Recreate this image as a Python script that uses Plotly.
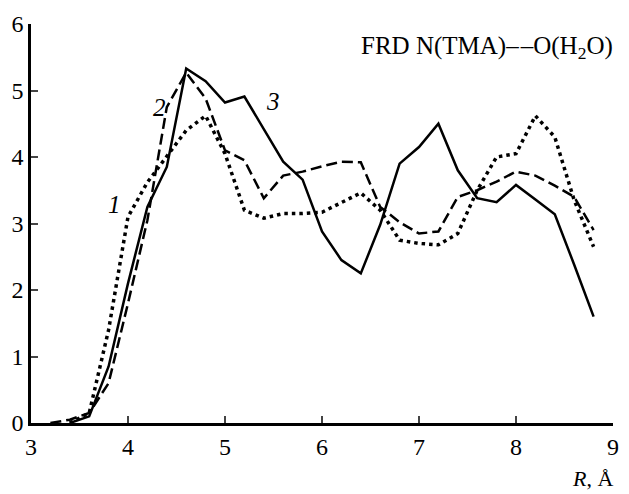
import plotly.graph_objects as go

# Distance grid (Å)
r = [3.2, 3.4, 3.6, 3.8, 4.0, 4.2, 4.4, 4.6, 4.8, 5.0, 5.2, 5.4, 5.6, 5.8, 6.0,
     6.2, 6.4, 6.6, 6.8, 7.0, 7.2, 7.4, 7.6, 7.8, 8.0, 8.2, 8.4, 8.6, 8.8]

# Curve 1 (dotted)
curve1 = [None, 0.0, 0.15, 1.4, 3.1, 3.62, 4.0, 4.4, 4.62, 4.05, 3.2, 3.08, 3.15, 3.15, 3.17,
          3.32, 3.46, 3.2, 2.75, 2.7, 2.68, 2.85, 3.5, 4.0, 4.05, 4.62, 4.3, 3.35, 2.65]
# Curve 2 (dashed)
curve2 = [0.0, 0.05, 0.15, 0.6, 1.8, 3.05, 4.75, 5.27, 4.88, 4.1, 3.95, 3.38, 3.72, 3.78, 3.86,
          3.93, 3.92, 3.25, 3.02, 2.85, 2.88, 3.4, 3.5, 3.63, 3.78, 3.72, 3.57, 3.4, 2.9]
# Curve 3 (solid)
curve3 = [None, 0.0, 0.1, 0.85, 2.1, 3.25, 3.85, 5.33, 5.14, 4.82, 4.91, 4.42, 3.93, 3.66, 2.88,
          2.45, 2.25, 2.98, 3.9, 4.15, 4.5, 3.8, 3.38, 3.32, 3.58, 3.36, 3.14, 2.38, 1.6]

x_ticks = [3, 4, 5, 6, 7, 8, 9]
y_ticks = [0, 1, 2, 3, 4, 5, 6]

curve_labels = ["1", "2", "3"]
label_x = [3.86, 4.32, 5.49]
label_y = [3.28, 4.75, 4.83]

title_text = "FRD N(TMA)\u2013\u200a\u2013O(H<sub>2</sub>O)"
x_title = "<i>R</i>, Å"

FONT = "Liberation Serif, Times New Roman, serif"

fig = go.Figure()
fig.add_trace(go.Scatter(x=r, y=curve1, mode="lines",
                         line=dict(color="black", width=3.5, dash="3.5px,4px"),
                         showlegend=False))
fig.add_trace(go.Scatter(x=r, y=curve2, mode="lines",
                         line=dict(color="black", width=2.5, dash="11px,5px"),
                         showlegend=False))
fig.add_trace(go.Scatter(x=r, y=curve3, mode="lines",
                         line=dict(color="black", width=2.5),
                         showlegend=False))

for t, xx, yy in zip(curve_labels, label_x, label_y):
    fig.add_annotation(x=xx, y=yy, xref="x", yref="y", text="<i>" + t + "</i>",
                       showarrow=False, font=dict(family=FONT, size=25, color="black"))

fig.add_annotation(x=1.003, y=0.942, xref="paper", yref="paper", text=title_text,
                   showarrow=False, xanchor="right", yanchor="middle",
                   font=dict(family=FONT, size=25, color="black"))
fig.add_annotation(x=1.003, y=-0.14, xref="paper", yref="paper", text=x_title,
                   showarrow=False, xanchor="right", yanchor="middle",
                   font=dict(family=FONT, size=22, color="black"))

fig.update_layout(
    width=629, height=494,
    margin=dict(l=31, r=10, t=24, b=71),
    paper_bgcolor="white", plot_bgcolor="white",
    font=dict(family=FONT, size=24, color="black"),
)
fig.update_xaxes(range=[3, 9], tickvals=x_ticks, ticks="inside", ticklen=7, tickwidth=2,
                 showline=True, linewidth=2.5, linecolor="black", showgrid=False,
                 zeroline=False, tickfont=dict(family=FONT, size=24, color="black"))
fig.update_yaxes(range=[0, 6], tickvals=y_ticks, ticks="inside", ticklen=7, tickwidth=2,
                 showline=True, linewidth=2.5, linecolor="black", showgrid=False,
                 zeroline=False, tickfont=dict(family=FONT, size=24, color="black"))

fig.write_html("out.html")
